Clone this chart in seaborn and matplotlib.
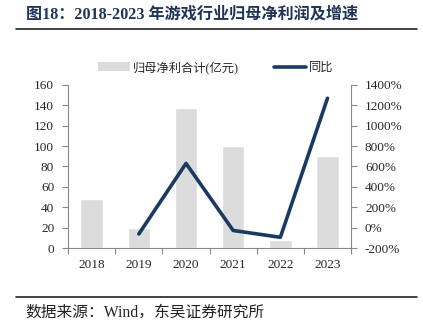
import numpy as np
import pandas as pd
import matplotlib
matplotlib.use("Agg")
import matplotlib.pyplot as plt
import seaborn as sns
from matplotlib.patches import Patch
from matplotlib.lines import Line2D
from matplotlib.ticker import FuncFormatter

years = ["2018", "2019", "2020", "2021", "2022", "2023"]
profit = [48, 20, 137, 100, 8, 90]
growth_years = ["2019", "2020", "2021", "2022", "2023"]
growth = [-62, 630, -28, -95, 1270]

bar_label = "归母净利合计(亿元)"
line_label = "同比"
title = "图18：2018-2023 年游戏行业归母净利润及增速"
source = "数据来源：Wind，东吴证券研究所"

sns.set_style("white")
fam = ["Liberation Serif", "Noto Sans CJK SC"]
plt.rcParams["font.family"] = fam

fig = plt.figure(figsize=(4.23, 3.32), dpi=100)
ax = fig.add_axes([0.161, 0.253, 0.669, 0.491])

df = pd.DataFrame({"year": years, "profit": profit})
sns.barplot(data=df, x="year", y="profit", color="#dcdcdc", saturation=1,
            width=0.48, ax=ax)
ax.set_ylim(0, 160)
ax.set_yticks(np.arange(0, 161, 20))
ax.set_xlim(-0.5, 5.5)
ax.set_xlabel("")
ax.set_ylabel("")

ax2 = ax.twinx()
pos = [years.index(y) for y in growth_years]
gdf = pd.DataFrame({"x": pos, "g": growth})
sns.lineplot(data=gdf, x="x", y="g", color="#1b3a63", linewidth=2.6, ax=ax2)
ax2.set_ylim(-200, 1400)
ax2.set_yticks(np.arange(-200, 1401, 200))
ax2.yaxis.set_major_formatter(FuncFormatter(lambda v, p: f"{int(v)}%"))
ax2.set_xlim(-0.5, 5.5)
ax2.set_ylabel("")
ax2.set_xlabel("")

ax.set_xticks(range(len(years)))
ax.set_xticklabels(years)
ax.set_xticks(np.arange(-0.5, 5.6, 1), minor=True)

spc = "#888888"
for a in (ax, ax2):
    for s in a.spines.values():
        s.set_visible(False)
ax.spines["left"].set_visible(True)
ax.spines["bottom"].set_visible(True)
ax2.spines["right"].set_visible(True)
for s in (ax.spines["left"], ax.spines["bottom"], ax2.spines["right"]):
    s.set_color(spc)
    s.set_linewidth(0.8)

ax.tick_params(axis="y", which="major", length=4, width=0.8, color=spc, direction="out",
               labelsize=9.5, pad=6, left=True)
ax.tick_params(axis="x", which="major", length=0, labelsize=9.5, pad=8)
ax.tick_params(axis="x", which="minor", length=4, width=0.8, color=spc, direction="out", bottom=True)
ax2.tick_params(axis="y", length=4, width=0.8, color=spc, direction="out",
                labelsize=9.5, pad=6, right=True)
for lab in ax.get_xticklabels() + ax.get_yticklabels() + ax2.get_yticklabels():
    lab.set_fontfamily(fam)

handles = [Patch(facecolor="#dcdcdc", edgecolor="none", label=bar_label),
           Line2D([0], [0], color="#1b3a63", linewidth=2.6, label=line_label)]
fig.legend(handles=handles, loc="center", bbox_to_anchor=(0.51, 0.797), ncol=2,
           frameon=False, columnspacing=2.9, handlelength=2.6,
           handletextpad=0.25, prop={"family": fam, "size": 8.8})

fig.text(0.062, 0.957, title, fontsize=11.6, fontweight="bold", color="#1f3557",
         family=fam, va="center", ha="left")
fig.add_artist(Line2D([0.038, 0.985], [0.914, 0.914], color="#222222", linewidth=1.2,
                      transform=fig.transFigure))
fig.add_artist(Line2D([0.038, 0.985], [0.105, 0.105], color="#222222", linewidth=1.2,
                      transform=fig.transFigure))
fig.text(0.060, 0.057, source, fontsize=11.3, color="#222222", family=fam,
         va="center", ha="left")

fig.savefig("out.png", dpi=100)
